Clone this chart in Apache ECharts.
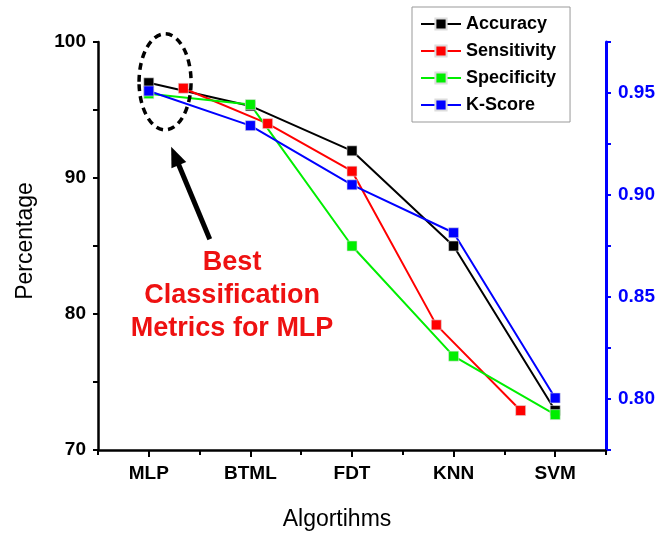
<!DOCTYPE html>
<html>
<head>
<meta charset="utf-8">
<script src="https://cdn.jsdelivr.net/npm/echarts@6/dist/echarts.min.js"></script>
<style>
  html, body { margin: 0; padding: 0; background: #fff; }
  #chart { width: 670px; height: 536px; }
</style>
</head>
<body>
<div id="chart"></div>
<script>
// data
const algorithms = ['MLP', 'BTML', 'FDT', 'KNN', 'SVM']
const accuracy = [97.0, 95.3, 92.0, 85.0, 72.9]
const specificity = [96.2, 95.4, 85.0, 76.9, 72.6]
// sensitivity markers sit between categories in the original, so it gets x positions
const sensitivityX = [0.34, 1.17, 2.0, 2.83, 3.66]
const sensitivity = [96.6, 94.0, 90.5, 79.2, 72.9]
const kScore = [0.951, 0.934, 0.905, 0.8815, 0.8005]
const leftTicks = [70, 80, 90, 100]
const rightTicks = [0.80, 0.85, 0.90, 0.95]

const FONT = '"Liberation Sans", Arial, sans-serif'

const chart = echarts.init(document.getElementById('chart'))

function lineSeries(name, color, data, extra) {
  return Object.assign({
    name: name,
    type: 'line',
    symbol: 'rect',
    symbolSize: 10,
    lineStyle: { color: color, width: 2 },
    itemStyle: { color: color, borderColor: '#ddd', borderWidth: 0.6 },
    data: data,
    animation: false
  }, extra || {})
}

chart.setOption({
  animation: false,
  textStyle: { fontFamily: FONT },
  grid: { left: 98, right: 64, top: 42, bottom: 84 },
  legend: {
    orient: 'vertical',
    left: 412,
    top: 7,
    padding: [8, 14, 8, 8],
    itemGap: 9,
    itemWidth: 40,
    itemHeight: 14,
    borderColor: '#999',
    borderWidth: 1,
    backgroundColor: '#fff',
    textStyle: { fontFamily: FONT, fontWeight: 'bold', fontSize: 18, color: '#000' },
    data: ['Accuracy', 'Sensitivity', 'Specificity', 'K-Score']
  },
  xAxis: [
    {
      type: 'category',
      data: algorithms,
      boundaryGap: true,
      name: 'Algortihms',
      nameLocation: 'middle',
      nameGap: 58,
      nameTextStyle: { fontFamily: FONT, fontSize: 23, color: '#000', padding: [0, 30, 0, 0] },
      axisLine: { onZero: false, lineStyle: { color: '#000', width: 2.5 } },
      axisTick: { show: true, alignWithLabel: true, length: 7, lineStyle: { color: '#000', width: 2 } },
      axisLabel: { margin: 14, fontFamily: FONT, fontWeight: 'bold', fontSize: 19, color: '#000' },
      splitLine: { show: false }
    },
    {
      type: 'value',
      position: 'bottom',
      min: -0.5,
      max: 4.5,
      interval: 0.5,
      axisLine: { show: false, onZero: false },
      axisTick: { show: true, length: 5, lineStyle: { color: '#000', width: 2 } },
      axisLabel: { show: false },
      splitLine: { show: false }
    }
  ],
  yAxis: [
    {
      type: 'value',
      min: 70,
      max: 100,
      interval: 5,
      name: 'Percentage',
      nameLocation: 'middle',
      nameGap: 61,
      nameRotate: 90,
      nameTextStyle: { fontFamily: FONT, fontSize: 23, color: '#000', padding: [0, 0, 0, 10] },
      axisLine: { show: true, onZero: false, lineStyle: { color: '#000', width: 2.5 } },
      axisTick: { show: true, length: 5, lineStyle: { color: '#000', width: 2 } },
      axisLabel: {
        margin: 12, fontFamily: FONT, fontWeight: 'bold', fontSize: 19, color: '#000',
        formatter: v => leftTicks.indexOf(v) >= 0 ? String(v) : ''
      },
      splitLine: { show: false }
    },
    {
      type: 'value',
      position: 'right',
      min: 0.775,
      max: 0.975,
      interval: 0.025,
      axisLine: { show: true, onZero: false, lineStyle: { color: '#0000ff', width: 3 } },
      axisTick: { show: true, length: 5, lineStyle: { color: '#0000ff', width: 2 } },
      axisLabel: {
        margin: 12, fontFamily: FONT, fontWeight: 'bold', fontSize: 19, color: '#0000ff',
        formatter: v => {
          const hit = rightTicks.find(t => Math.abs(t - v) < 1e-6)
          return hit !== undefined ? hit.toFixed(2) : ''
        }
      },
      splitLine: { show: false }
    }
  ],
  series: [
    lineSeries('Accuracy', '#000000', accuracy),
    lineSeries('Sensitivity', '#ff0000', sensitivityX.map((x, i) => [x, sensitivity[i]]), { xAxisIndex: 1 }),
    lineSeries('Specificity', '#00ee00', specificity),
    lineSeries('K-Score', '#0000ff', kScore, { yAxisIndex: 1 })
  ]
})

// annotation: dashed ring round MLP, arrow, red note
const px = (x, y) => chart.convertToPixel({ xAxisIndex: 1, yAxisIndex: 0 }, [x, y])
const ringC = px(0.16, 97.07)
const tail = px(0.6, 85.5)
const tip = px(0.22, 92.3)
const noteAt = px(0.82, 85.0)

const dx = tip[0] - tail[0], dy = tip[1] - tail[1]
const len = Math.sqrt(dx * dx + dy * dy)
const ux = dx / len, uy = dy / len
const headLen = 20, headHalf = 8
const base = [tip[0] - ux * headLen, tip[1] - uy * headLen]

chart.setOption({
  graphic: [
    {
      type: 'ellipse',
      shape: { cx: ringC[0], cy: ringC[1], rx: 26, ry: 48 },
      style: { fill: 'none', stroke: '#000', lineWidth: 3.5, lineDash: [7, 5] },
      z: 100
    },
    {
      type: 'line',
      shape: { x1: tail[0], y1: tail[1], x2: base[0] + ux * 2, y2: base[1] + uy * 2 },
      style: { stroke: '#000', lineWidth: 5 },
      z: 100
    },
    {
      type: 'polygon',
      shape: {
        points: [
          tip,
          [base[0] - uy * headHalf, base[1] + ux * headHalf],
          [base[0] + uy * headHalf, base[1] - ux * headHalf]
        ]
      },
      style: { fill: '#000' },
      z: 100
    },
    {
      type: 'text',
      x: noteAt[0],
      y: noteAt[1],
      style: {
        text: 'Best\nClassification\nMetrics for MLP',
        fill: '#ee1111',
        font: 'bold 27px ' + FONT,
        align: 'center',
        verticalAlign: 'top',
        lineHeight: 33
      },
      z: 100
    }
  ]
})
</script>
</body>
</html>
